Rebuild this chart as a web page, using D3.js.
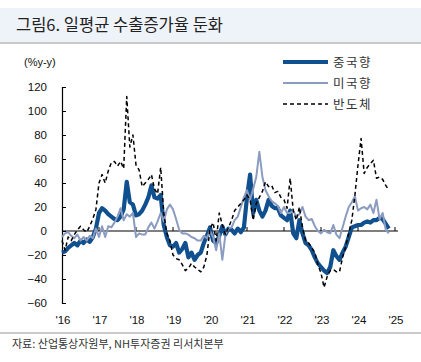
<!DOCTYPE html>
<html>
<head>
<meta charset="utf-8">
<script src="https://cdn.jsdelivr.net/npm/d3@7"></script>
<style>
  body { margin: 0; background: #fff; }
  svg { display: block; }
</style>
</head>
<body>
<div id="chart"></div>
<script>
// monthly, Jan 2016 .. Nov 2024
var startYear = 2016;
var china = [
  -18, -17, -14, -12, -10, -12, -8, -10, -7, -9, -5, 2,
  15, 19, 17, 14, 12, 10, 9, 12, 18, 41, 24, 22,
  13, 14, 17, 22, 28, 38, 28, 27, 30, 5, -5, -12,
  -13, -10, -18, -15, -10, -22, -18, -24, -20, -18, -10, -4,
  3, -8, -10, -4, 4, -3, 2, 1, -2, 2, -1, 3,
  28, 47, 15, 26, 17, 12, 17, 26, 21, 19, 19, 13,
  11, 9, 17, -2, -6, 9, -2, -10, -12, -16, -22, -27,
  -30, -33, -35, -30, -16, -21, -24, -18, -13, -5, 3, 4,
  5, 5, 7, 8, 7, 9, 9, 11, 10, 6, 2
];
var usa = [
  -5, -2, -1, -4, -6, -3, -8, -5, -8, -4, -6, 2,
  -5, 4, -5, 4, 3, 7, 12, 19, 9, 14, 12, 15,
  -5, -2, -3, -3, 3, 7, 2, 8, 15, 8, 18, 22,
  18, 10, 1, -2, -2, -3, -5, -6, -8, -8, -4, -6,
  0, -5, -16, -2, -24, -3, 2, 3, 9, 12, 20, 28,
  34, 26, 35, 45, 66, 45, 34, 29, 25, 23, 21, 15,
  20, 15, 15, 17, 12, 14, 20, 12, 9, 10, 4, 0,
  -2, 1, -1, -2, 5, -3, -6, 3, 12, 20, 24, 29,
  17, 19, 20, 18, 22, 15, 26, 10, 15, 1, -2
];
var semi = [
  -8, -16, -5, -8, -3, 1, 4, 1, -1, 4, 10, 18,
  40, 47, 40, 50, 57, 58, 54, 58, 52, 112, 70, 80,
  55, 51, 37, 40, 43, 47, 35, 31, 53, 15, -2, -8,
  -20, -23, -24, -28, -33, -31, -27, -30, -32, -34, -30, -20,
  2, 7, -8, 15, 5, -3, 3, 9, 17, 20, 23, 26,
  30, 26, 9, 23, 28, 33, 41, 37, 38, 32, 33, 28,
  26, 19, 44, 17, 9, 20, 3, -8, -10, -14, -18, -28,
  -35, -47, -38, -33, -32, -34, -34, -22, -13, -2, 9, 30,
  55, 77, 48, 53, 56, 59, 44, 45, 43, 38, 34
];
var yTicks = [120, 100, 80, 60, 40, 20, 0, -20, -40, -60];
var years = ["'16", "'17", "'18", "'19", "'20", "'21", "'22", "'23", "'24", "'25"];
var seriesNames = ["중국향", "미국향", "반도체"];

var W = 421, H = 362;
var svg = d3.select("#chart").append("svg")
  .attr("width", W).attr("height", H);

// title band
svg.append("rect").attr("x", 0).attr("y", 8).attr("width", W).attr("height", 35)
  .attr("fill", "#eef2f9");
svg.append("rect").attr("x", 0).attr("y", 42).attr("width", W).attr("height", 2)
  .attr("fill", "#c9c9c9");
svg.append("text").attr("x", 16).attr("y", 31)
  .attr("font-family", "'Noto Sans CJK KR', sans-serif")
  .attr("font-size", 16.5).attr("fill", "#222")
  .text("그림6. 일평균 수출증가율 둔화");

// scales
var x = d3.scaleLinear().domain([0, 9]).range([62, 395]);
var y = d3.scaleLinear().domain([-60, 120]).range([303, 87]);
function xm(i) { return x(i / 12); }

// y axis
var yAxis = d3.axisLeft(y).tickValues(yTicks).tickSize(-4).tickPadding(15);
var gy = svg.append("g").attr("transform", "translate(62,0)").call(yAxis);
gy.select(".domain").attr("stroke", "#000").attr("stroke-width", 1.2);
gy.selectAll(".tick line").attr("stroke", "#000");
gy.selectAll("text")
  .attr("font-family", "'Liberation Sans', Arial, sans-serif")
  .attr("font-size", 11.5).attr("fill", "#111");

// zero line with year ticks
svg.append("line").attr("x1", 62).attr("x2", 398)
  .attr("y1", y(0)).attr("y2", y(0)).attr("stroke", "#000").attr("stroke-width", 1.2);
svg.selectAll(".ytick").data(d3.range(1, 10)).enter().append("line")
  .attr("x1", function (d) { return x(d); }).attr("x2", function (d) { return x(d); })
  .attr("y1", y(0)).attr("y2", y(0) - 4).attr("stroke", "#000");

// year labels
svg.selectAll(".yl").data(years).enter().append("text")
  .attr("x", function (d, i) { return x(i) + 1; })
  .attr("y", 324)
  .attr("text-anchor", "middle")
  .attr("font-family", "'Liberation Sans', Arial, sans-serif")
  .attr("font-size", 11.5).attr("fill", "#111")
  .text(function (d) { return d; });

// unit
svg.append("text").attr("x", 24).attr("y", 66)
  .attr("font-family", "'Liberation Sans', Arial, sans-serif")
  .attr("font-size", 11).attr("fill", "#111").text("(%y-y)");

// lines
var line = d3.line().x(function (d, i) { return xm(i); }).y(function (d) { return y(d); });

var styles = [
  { data: china, color: "#11508f", width: 4.2, dash: null },
  { data: usa, color: "#8b9cc0", width: 2, dash: null },
  { data: semi, color: "#000", width: 1.5, dash: "4,3" }
];
styles.forEach(function (s) {
  svg.append("path").datum(s.data)
    .attr("d", line)
    .attr("fill", "none")
    .attr("stroke", s.color)
    .attr("stroke-width", s.width)
    .attr("stroke-linejoin", "round")
    .attr("stroke-dasharray", s.dash);
});

// legend
var lg = svg.selectAll(".lg").data(styles).enter().append("g")
  .attr("transform", function (d, i) { return "translate(283," + (62 + i * 21) + ")"; });
lg.append("line").attr("x1", 0).attr("x2", 45).attr("y1", 0).attr("y2", 0)
  .attr("stroke", function (d) { return d.color; })
  .attr("stroke-width", function (d) { return d.width; })
  .attr("stroke-dasharray", function (d) { return d.dash; });
lg.append("text").attr("x", 50).attr("y", 5)
  .attr("font-family", "'Noto Sans CJK KR', sans-serif")
  .attr("font-size", 12.5).attr("letter-spacing", 1.5).attr("fill", "#333")
  .text(function (d, i) { return seriesNames[i]; });

// source
svg.append("rect").attr("x", 0).attr("y", 332).attr("width", W).attr("height", 2)
  .attr("fill", "#c9c9c9");
svg.append("text").attr("x", 12).attr("y", 348)
  .attr("font-family", "'Noto Sans CJK KR', sans-serif")
  .attr("font-size", 11).attr("fill", "#333")
  .text("자료: 산업통상자원부, NH투자증권 리서치본부");
</script>
</body>
</html>
